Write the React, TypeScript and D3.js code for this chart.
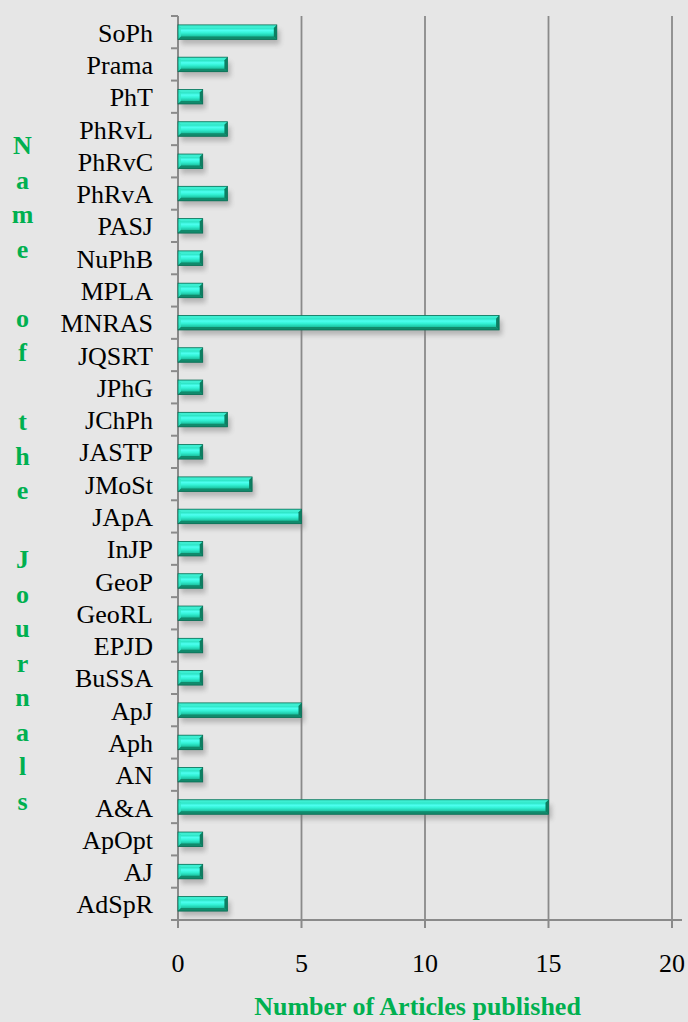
import React from "react";
import * as d3 from "d3";

const journals = ["SoPh","Prama","PhT","PhRvL","PhRvC","PhRvA","PASJ","NuPhB","MPLA","MNRAS","JQSRT","JPhG","JChPh","JASTP","JMoSt","JApA","InJP","GeoP","GeoRL","EPJD","BuSSA","ApJ","Aph","AN","A&A","ApOpt","AJ","AdSpR"];
const articles = [4,2,1,2,1,2,1,1,1,13,1,1,2,1,3,5,1,1,1,1,1,5,1,1,15,1,1,2];
const xTicks = [0,5,10,15,20];
const yTitle = "Name of the Journals";
const xTitle = "Number of Articles published";

const W = 688, H = 1022;
const left = 178, right = 672, top = 16, bottom = 920;

export default function App() {
  const x = d3.scaleLinear().domain([0, 20]).range([left, right]);
  const y = d3.scaleBand<string>().domain(journals).range([top, bottom]).padding(0);
  const bw = y.bandwidth();
  const bh = 14.5;
  const axisCol = "#8a8a8a";
  const green = "#00b050";
  const font = "'Liberation Serif', 'Times New Roman', serif";
  const boundaries = d3.range(journals.length + 1).map(i => top + i * bw);
  const chars = yTitle.split("");
  return (
    <svg width={W} height={H} style={{ position: "absolute", left: 0, top: 0 }}>
      <defs>
        <linearGradient id="barg" x1="0" y1="0" x2="0" y2="1">
          <stop offset="0%" stopColor="#2fe6c6" />
          <stop offset="18%" stopColor="#22dcb8" />
          <stop offset="38%" stopColor="#4dfff0" />
          <stop offset="55%" stopColor="#33f2d6" />
          <stop offset="78%" stopColor="#1cc4a2" />
          <stop offset="100%" stopColor="#0f9272" />
        </linearGradient>
        <filter id="shadow" x="-10%" y="-50%" width="120%" height="250%">
          <feGaussianBlur stdDeviation="2.5" />
        </filter>
      </defs>
      <rect x={0} y={0} width={W} height={H} fill="#e6e6e6" />
      {xTicks.filter(t => t > 0).map(t => (
        <line key={"g" + t} x1={x(t)} x2={x(t)} y1={top} y2={bottom} stroke={axisCol} strokeWidth={1.8} />
      ))}
      <line x1={left} x2={left} y1={top} y2={bottom} stroke={axisCol} strokeWidth={2} />
      <line x1={left - 7} x2={right + 10} y1={bottom} y2={bottom} stroke={axisCol} strokeWidth={2} />
      {boundaries.map((b, i) => (
        <line key={"yt" + i} x1={left - 7} x2={left} y1={b} y2={b} stroke={axisCol} strokeWidth={2} />
      ))}
      {xTicks.map(t => (
        <line key={"xt" + t} x1={x(t)} x2={x(t)} y1={bottom} y2={bottom + 8} stroke={axisCol} strokeWidth={2} />
      ))}
      {journals.map((j, i) => {
        const cy = (y(j) as number) + bw / 2;
        const y0 = cy - bh / 2;
        const x0 = x(0);
        const x1 = x(articles[i]);
        const w = x1 - x0;
        const e = 3;
        return (
          <g key={j}>
            <rect x={x0 + 3} y={y0 + 5} width={w} height={bh} fill="#777" opacity={0.45} filter="url(#shadow)" />
            <rect x={x0} y={y0} width={w} height={bh} fill="url(#barg)" />
            <polygon points={`${x0},${y0} ${x1},${y0} ${x1 - e},${y0 + e} ${x0 + e},${y0 + e}`} fill="#3ff0d4" opacity={0.9} />
            <polygon points={`${x0},${y0} ${x0 + e},${y0 + e} ${x0 + e},${y0 + bh - e} ${x0},${y0 + bh}`} fill="#35e8c8" opacity={0.8} />
            <polygon points={`${x1},${y0} ${x1},${y0 + bh} ${x1 - e},${y0 + bh - e} ${x1 - e},${y0 + e}`} fill="#0d7f62" />
            <polygon points={`${x0},${y0 + bh} ${x1},${y0 + bh} ${x1 - e},${y0 + bh - e} ${x0 + e},${y0 + bh - e}`} fill="#118a6c" />
            <rect x={x0} y={y0} width={w} height={bh} fill="none" stroke="#0b6e55" strokeWidth={0.8} />
          </g>
        );
      })}
      {journals.map(j => (
        <text key={"l" + j} x={153} y={(y(j) as number) + bw / 2 + 9.5} textAnchor="end" fontFamily={font} fontSize={26} fill="#000">{j}</text>
      ))}
      {xTicks.map(t => (
        <text key={"xl" + t} x={x(t)} y={972} textAnchor="middle" fontFamily={font} fontSize={26} fill="#000">{t}</text>
      ))}
      {chars.map((c, i) => (
        <text key={"c" + i} x={22.5} y={154 + i * 34.5} textAnchor="middle" fontFamily={font} fontSize={26} fontWeight="bold" fill={green}>{c}</text>
      ))}
      <text x={417.5} y={1015} textAnchor="middle" fontFamily={font} fontSize={26} fontWeight="bold" fill={green}>{xTitle}</text>
    </svg>
  );
}
